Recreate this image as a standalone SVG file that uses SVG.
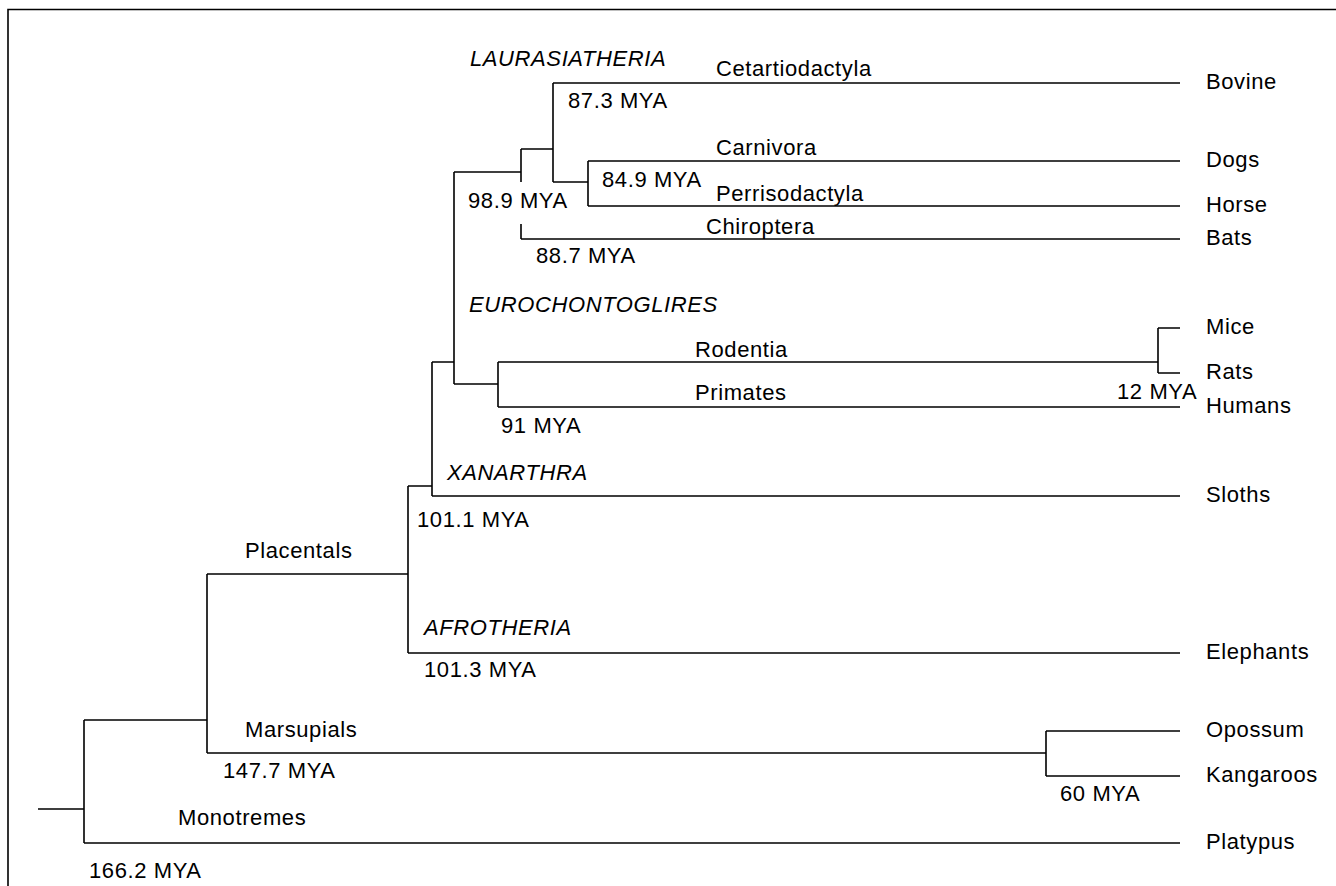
<svg xmlns="http://www.w3.org/2000/svg" width="1336" height="886" viewBox="0 0 1336 886">
<style>
.t{font-family:"Liberation Sans",Arial,Helvetica,sans-serif;font-size:22px;letter-spacing:0.6px;fill:#000}
.i{font-style:italic}
.ln{fill:none;stroke:#000;stroke-width:1.6}
</style>
<rect width="1336" height="886" fill="#fff"/>
<path class="ln" d="M8 886 V9.5 H1336"/>
<g id="connectors">
<path class="ln" d="M38 809 H84 M84 720 V843 M84 720 H207 M84 843 H1180"/>
<path class="ln" d="M207 574 V753 M207 574 H408 M207 753 H1046"/>
<path class="ln" d="M1046 731 V776 M1046 731 H1180 M1046 776 H1180"/>
<path class="ln" d="M408 486 V653 M408 653 H1180 M408 486 H432"/>
<path class="ln" d="M432 362 V496 M432 496 H1180 M432 362 H454"/>
<path class="ln" d="M454 172 V384 M454 384 H498"/>
<path class="ln" d="M498 362 V407 M498 362 H1158 M498 407 H1180"/>
<path class="ln" d="M1158 328 V373 M1158 328 H1180 M1158 373 H1180"/>
<path class="ln" d="M454 172 H521 M521 149 V182 M521 224 V239 M521 239 H1180 M521 149 H553"/>
<path class="ln" d="M553 83 V182 M553 83 H1180 M553 182 H588"/>
<path class="ln" d="M588 161 V206 M588 161 H1180 M588 206 H1180"/>
</g>
<g id="leaf-bovine"><text class="t" x="1206" y="89">Bovine</text></g>
<g id="leaf-dogs"><text class="t" x="1206" y="167">Dogs</text></g>
<g id="leaf-horse"><text class="t" x="1206" y="212">Horse</text></g>
<g id="leaf-bats"><text class="t" x="1206" y="245">Bats</text></g>
<g id="leaf-mice"><text class="t" x="1206" y="334">Mice</text></g>
<g id="leaf-rats"><text class="t" x="1206" y="379">Rats</text></g>
<g id="leaf-humans"><text class="t" x="1206" y="413">Humans</text></g>
<g id="leaf-sloths"><text class="t" x="1206" y="502">Sloths</text></g>
<g id="leaf-elephants"><text class="t" x="1206" y="659">Elephants</text></g>
<g id="leaf-opossum"><text class="t" x="1206" y="737">Opossum</text></g>
<g id="leaf-kangaroos"><text class="t" x="1206" y="782">Kangaroos</text></g>
<g id="leaf-platypus"><text class="t" x="1206" y="849">Platypus</text></g>
<g id="node-laurasiatheria"><text class="t i" x="470" y="66">LAURASIATHERIA</text><text class="t" x="468" y="208">98.9 MYA</text></g>
<g id="node-cetartiodactyla"><text class="t" x="716" y="76">Cetartiodactyla</text><text class="t" x="568" y="108">87.3 MYA</text></g>
<g id="node-carnivora"><text class="t" x="716" y="155">Carnivora</text><text class="t" x="602" y="187">84.9 MYA</text><text class="t" x="716" y="201">Perrisodactyla</text></g>
<g id="node-chiroptera"><text class="t" x="706" y="234">Chiroptera</text><text class="t" x="536" y="263">88.7 MYA</text></g>
<g id="node-eurochontoglires"><text class="t i" x="469" y="312">EUROCHONTOGLIRES</text><text class="t" x="501" y="433">91 MYA</text></g>
<g id="node-rodentia"><text class="t" x="695" y="357">Rodentia</text><text class="t" x="1117" y="399">12 MYA</text></g>
<g id="node-primates"><text class="t" x="695" y="400">Primates</text></g>
<g id="node-xanarthra"><text class="t i" x="447" y="480">XANARTHRA</text><text class="t" x="417" y="527">101.1 MYA</text></g>
<g id="node-afrotheria"><text class="t i" x="424" y="635">AFROTHERIA</text><text class="t" x="424" y="677">101.3 MYA</text></g>
<g id="node-placentals"><text class="t" x="245" y="558">Placentals</text></g>
<g id="node-marsupials"><text class="t" x="245" y="737">Marsupials</text><text class="t" x="223" y="778">147.7 MYA</text><text class="t" x="1060" y="801">60 MYA</text></g>
<g id="node-monotremes"><text class="t" x="178" y="825">Monotremes</text><text class="t" x="89" y="878">166.2 MYA</text></g>
</svg>
